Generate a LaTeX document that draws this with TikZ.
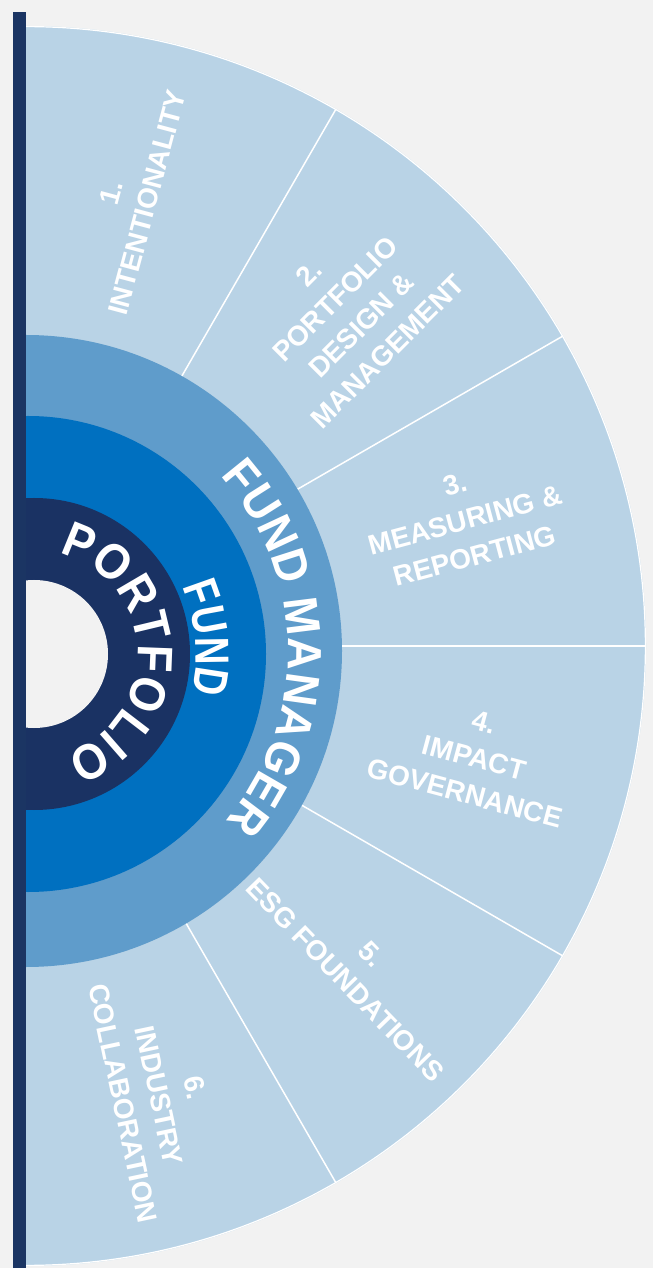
\documentclass[tikz,border=0pt]{standalone}
\usepackage{fontspec}
\setmainfont{Liberation Sans}
\newfontfamily\cbold{Liberation Sans Bold}[FakeStretch=0.9]
\newfontfamily\cboldn{Liberation Sans Bold}[FakeStretch=0.8]
\newfontfamily\cboldm{Liberation Sans Bold}[FakeStretch=0.94]
\usetikzlibrary{decorations.text}
\definecolor{bg}{HTML}{F2F2F2}
\definecolor{barc}{HTML}{1B3563}
\definecolor{sector}{HTML}{B9D3E6}
\definecolor{fm}{HTML}{5F9CCB}
\definecolor{fund}{HTML}{0070C0}
\definecolor{port}{HTML}{1A3263}
\tikzset{
  seclabel/.style={text=white, align=center, font=\fontsize{28}{37}\selectfont\bfseries, inner sep=0pt},
  divider/.style={white, line width=1.5pt},
  arctext/.style={decorate, decoration={text along path, text color=white, text align={fit to path}, text={#1}}}
}
\begin{document}
\begin{tikzpicture}[x=1pt,y=1pt]
\useasboundingbox (-26,-622) rectangle (627,646);
\fill[bg] (-26,-622) rectangle (627,646);
\begin{scope}
  \clip (0,-622) rectangle (627,646);
  \fill[sector] (0,0) circle[radius=620];
  \draw[white, line width=1.2pt] (0,0) circle[radius=619.4];
  \foreach \a in {60,30,0,-30,-60} \draw[divider] (\a:300) -- (\a:620);
  \fill[fm] (0,-5) circle[radius=316];
  \fill[fund] (2,-8) circle[radius=238];
  \fill[port] (8,-8) circle[radius=156];
  \fill[bg] (8,-8) circle[radius=74];
\end{scope}
\fill[barc] (-13,-622) rectangle (0,634);

\node[seclabel, rotate=75] (l1) at (77:460) {1.\\INTENTIONALITY};
\node[seclabel, rotate=45] (l2) at (46:464) {2.\\PORTFOLIO\\DESIGN \&\\MANAGEMENT};
\node[seclabel, rotate=15] (l3) at (16:457) {3.\\MEASURING \&\\REPORTING};
\node[seclabel, rotate=-15] (l4) at (-14:462) {4.\\IMPACT\\GOVERNANCE};
\node[seclabel, rotate=-46] (l5) at (-44:462) {5.\\ESG FOUNDATIONS};
\node[seclabel, rotate=-78] (l6) at (-73.5:469) {6.\\INDUSTRY\\COLLABORATION};

\path[arctext={|\fontsize{48}{50}\selectfont\cboldm|FUND MANAGER}]
  ([shift={(0,-5)}]42:262) arc[start angle=42, end angle=-40.5, radius=262];
\path[arctext={|\fontsize{48}{50}\selectfont\cboldn|FUND}]
  ([shift={(2,-8)}]23.5:168) arc[start angle=23.5, end angle=-13.5, radius=168];
\path[arctext={|\fontsize{50}{54}\selectfont\cbold|PORTFOLIO}]
  ([shift={(8,-8)}]76:104) arc[start angle=76, end angle=-72, radius=104];
\end{tikzpicture}
\end{document}
